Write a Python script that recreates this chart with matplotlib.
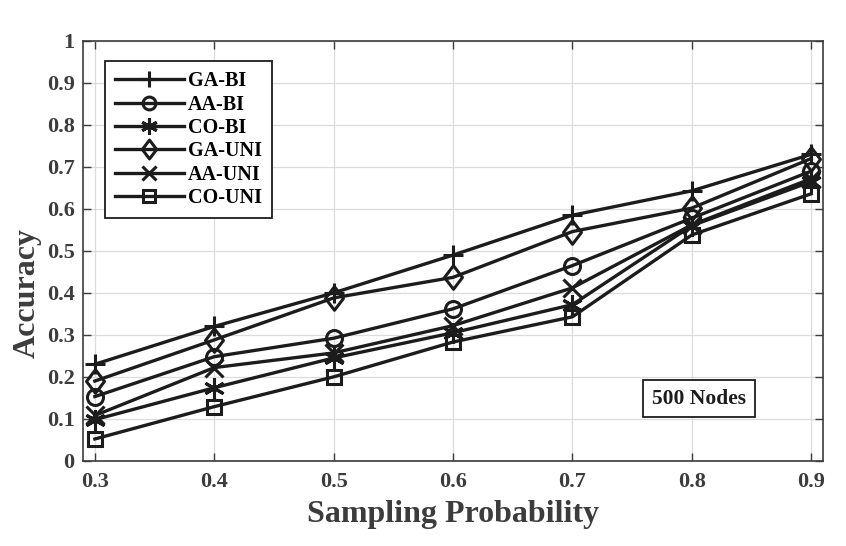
import numpy as np
import matplotlib
matplotlib.use('Agg')
import matplotlib.pyplot as plt
from matplotlib.path import Path

# sampling probability (x axis)
prob = [0.3, 0.4, 0.5, 0.6, 0.7, 0.8, 0.9]

# accuracy for each method
ga_bi = [0.23, 0.32, 0.40, 0.49, 0.585, 0.643, 0.73]
aa_bi = [0.153, 0.248, 0.292, 0.362, 0.465, 0.578, 0.69]
co_bi = [0.098, 0.174, 0.245, 0.305, 0.372, 0.560, 0.665]
ga_uni = [0.19, 0.288, 0.388, 0.437, 0.546, 0.602, 0.72]
aa_uni = [0.108, 0.222, 0.257, 0.322, 0.412, 0.562, 0.672]
co_uni = [0.052, 0.129, 0.200, 0.283, 0.343, 0.538, 0.636]

labels = ['GA-BI', 'AA-BI', 'CO-BI', 'GA-UNI', 'AA-UNI', 'CO-UNI']
series = [ga_bi, aa_bi, co_bi, ga_uni, aa_uni, co_uni]

# matlab style diamond (a bit taller than wide)
diamond = Path([(0, 1), (0.76, 0), (0, -1), (-0.76, 0), (0, 1)],
               [Path.MOVETO, Path.LINETO, Path.LINETO, Path.LINETO, Path.CLOSEPOLY])
markers = ['+', 'o', (6, 2, 0), diamond, 'x', 's']
msizes = [15, 11.5, 15, 17, 13, 10.5]

txt = '#3c3c3c'
plt.rcParams['font.family'] = 'Liberation Serif'
plt.rcParams['font.weight'] = 'bold'

fig = plt.figure(figsize=(8.46, 5.46), dpi=100)
ax = fig.add_axes([0.098, 0.156, 0.875, 0.769])

for y, lab, m, ms in zip(series, labels, markers, msizes):
    ax.plot(prob, y, color='#1c1c1c', lw=2.4, marker=m, markersize=ms,
            markerfacecolor='none', markeredgewidth=2.2, label=lab)

ax.set_xlim(0.29, 0.91)
ax.set_ylim(0, 1)
ax.set_xticks(prob)
ax.set_xticklabels(['0.3', '0.4', '0.5', '0.6', '0.7', '0.8', '0.9'])
ax.set_yticks(np.arange(0, 1.01, 0.1))
ax.set_yticklabels(['0', '0.1', '0.2', '0.3', '0.4', '0.5', '0.6', '0.7', '0.8', '0.9', '1'])
ax.tick_params(direction='in', top=True, right=True, length=6, width=1,
               colors=txt, labelsize=16, pad=6)
ax.tick_params(axis='x', pad=8)
for lbl in ax.get_xticklabels() + ax.get_yticklabels():
    lbl.set_fontweight('bold')
ax.grid(True, color='#dcdcdc', lw=0.9)
ax.set_axisbelow(True)
for s in ax.spines.values():
    s.set_color(txt)
    s.set_linewidth(1.2)

ax.set_xlabel('Sampling Probability', fontsize=23, fontweight='bold', color=txt, labelpad=6)
ax.set_ylabel('Accuracy', fontsize=23, fontweight='bold', color=txt)
ax.yaxis.set_label_coords(-0.055, 0.40)

leg = ax.legend(loc='upper left', bbox_to_anchor=(0.03, 0.952), fancybox=False,
                edgecolor='#1c1c1c', framealpha=1, fontsize=14.5, handlelength=3.4,
                borderpad=0.5, labelspacing=0.17, handletextpad=0.2, markerscale=0.8,
                borderaxespad=0)
leg.get_frame().set_linewidth(1.3)
for t in leg.get_texts():
    t.set_fontweight('bold')

ax.text(0.806, 0.148, '500 Nodes', fontsize=15.5, fontweight='bold', color='#1c1c1c',
        ha='center', va='center',
        bbox=dict(boxstyle='square,pad=0.4', fc='white', ec='#1c1c1c', lw=1.3))

fig.savefig('out.png', dpi=100)
